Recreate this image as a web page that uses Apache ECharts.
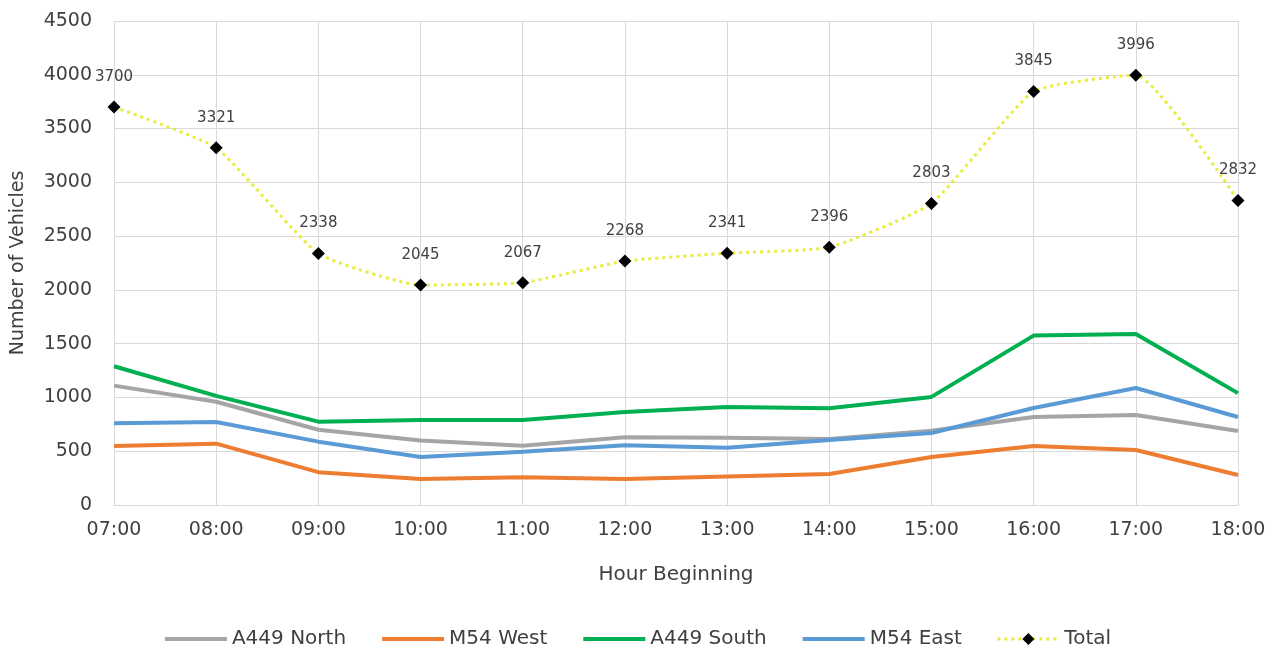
<!DOCTYPE html>
<html>
<head>
<meta charset="utf-8">
<script src="https://cdn.jsdelivr.net/npm/echarts@6/dist/echarts.min.js"></script>
<style>
  html, body { margin: 0; padding: 0; background: #ffffff; }
  #chart { width: 1274px; height: 648px; }
</style>
</head>
<body>
<div id="chart"></div>
<script>
// Hourly vehicle counts per approach, 07:00 to 18:00
const hours = ['07:00', '08:00', '09:00', '10:00', '11:00', '12:00', '13:00', '14:00', '15:00', '16:00', '17:00', '18:00'];
const a449North = [1110, 960, 700, 600, 550, 630, 625, 613, 690, 818, 837, 688];
const m54West = [549, 570, 305, 242, 258, 242, 265, 288, 446, 549, 511, 279];
const a449South = [1290, 1015, 775, 790, 790, 865, 912, 900, 1005, 1575, 1590, 1040];
const m54East = [760, 772, 589, 446, 496, 556, 532, 604, 669, 902, 1088, 818];
const total = [3700, 3321, 2338, 2045, 2067, 2268, 2341, 2396, 2803, 3845, 3996, 2832];
const yTicks = [0, 500, 1000, 1500, 2000, 2500, 3000, 3500, 4000, 4500];

const FONT = 'DejaVu Sans';
const TEXT = '#404040';

function approach(name, data, color) {
  return {
    name: name,
    type: 'line',
    data: data,
    symbol: 'none',
    smooth: false,
    lineStyle: { color: color, width: 4 },
    itemStyle: { color: color },
    z: 2
  };
}

// legend entries for the approaches show only the line, no marker
function plainEntry(name) {
  return { name: name, itemStyle: { opacity: 0 }, lineStyle: { width: 4 } };
}

const chart = echarts.init(document.getElementById('chart'));
chart.setOption({
  animation: false,
  backgroundColor: '#ffffff',
  textStyle: { fontFamily: FONT },
  grid: { left: 114, right: 36, top: 21, bottom: 143, containLabel: false },
  xAxis: {
    type: 'category',
    data: hours,
    boundaryGap: false,
    name: 'Hour Beginning',
    nameLocation: 'middle',
    nameGap: 60,
    nameTextStyle: { fontFamily: FONT, fontSize: 20, color: TEXT },
    axisLine: { lineStyle: { color: '#d9d9d9', width: 1 } },
    axisTick: { show: false },
    axisLabel: { fontFamily: FONT, fontSize: 19, color: TEXT, margin: 16 },
    splitLine: { show: true, lineStyle: { color: '#d9d9d9', width: 1 } }
  },
  yAxis: {
    type: 'value',
    min: yTicks[0],
    max: yTicks[yTicks.length - 1],
    interval: yTicks[1] - yTicks[0],
    name: 'Number of Vehicles',
    nameLocation: 'middle',
    nameGap: 86,
    nameTextStyle: { fontFamily: FONT, fontSize: 19, color: TEXT },
    axisLine: { show: false },
    axisTick: { show: false },
    axisLabel: {
      fontFamily: FONT, fontSize: 19, color: TEXT, margin: 22,
      formatter: function (v) { return String(v); }
    },
    splitLine: { show: true, lineStyle: { color: '#d9d9d9', width: 1 } }
  },
  legend: {
    top: 624,
    left: 'center',
    itemWidth: 62,
    itemHeight: 15,
    itemGap: 34,
    textStyle: { fontFamily: FONT, fontSize: 20, color: TEXT },
    data: [
      plainEntry('A449 North'),
      plainEntry('M54 West'),
      plainEntry('A449 South'),
      plainEntry('M54 East'),
      { name: 'Total', lineStyle: { width: 3 } }
    ]
  },
  series: [
    approach('A449 North', a449North, '#a5a5a5'),
    approach('M54 West', m54West, '#ed7d31'),
    approach('A449 South', a449South, '#00b050'),
    approach('M54 East', m54East, '#5b9bd5'),
    {
      name: 'Total',
      type: 'line',
      data: total,
      smooth: 0.15,
      symbol: 'diamond',
      symbolSize: 13,
      itemStyle: { color: '#000000' },
      lineStyle: { color: '#e8ec3a', width: 3, type: [3, 4] },
      label: {
        show: true,
        position: 'top',
        distance: 16,
        fontFamily: FONT,
        fontSize: 15,
        color: TEXT
      },
      z: 3
    }
  ]
});
</script>
</body>
</html>
